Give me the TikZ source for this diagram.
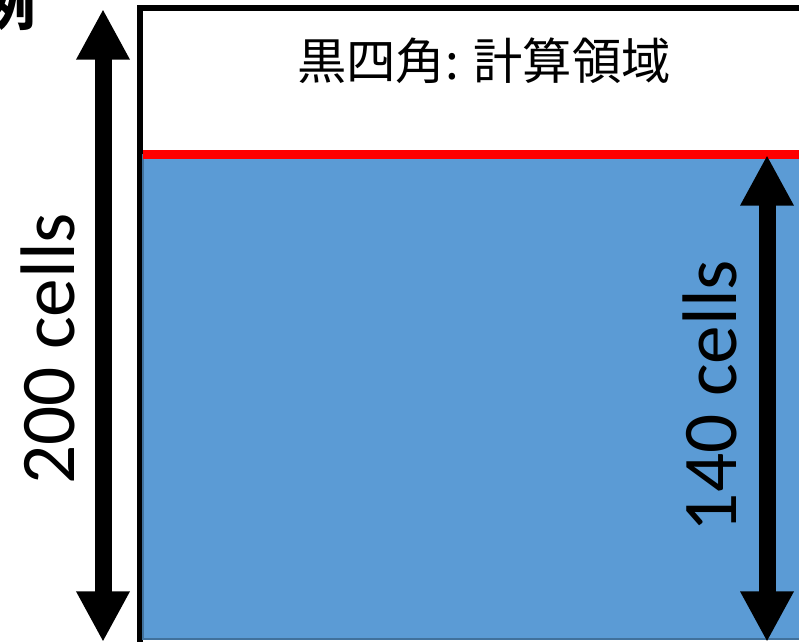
\documentclass[tikz,border=0pt]{standalone}
\usepackage{fontspec}
\setmainfont{Carlito}
\newfontfamily\jpfont{Noto Sans CJK JP}
\usetikzlibrary{arrows.meta}
\definecolor{cellblue}{HTML}{5B9BD5}
\definecolor{celledge}{HTML}{41719C}
\tikzset{
  bigarrow/.style={line width=12.75pt,{Triangle[length=38pt,width=37.5pt]}-{Triangle[length=38pt,width=37.5pt]}},
  celllabel/.style={rotate=90,inner sep=0pt,font=\fontsize{58}{60}\selectfont}
}
\begin{document}
\begin{tikzpicture}[x=0.75pt,y=-0.75pt]
    \useasboundingbox (0,0) rectangle (799,642);

    % Cut-off title at the top left
    \node[anchor=base east,inner sep=0pt,font=\jpfont\bfseries\fontsize{40}{42}\selectfont] (title) at (36,26) {例};

    % Computational domain (black square)
    \draw[line width=4.5pt] (140,8) rectangle (840,690);
    \node[font=\jpfont\fontsize{37}{40}\selectfont] (domain) at (484,61) {黒四角: 計算領域};

    % Filled part: 140 cells
    \filldraw[fill=cellblue,draw=celledge,line width=1.5pt] (143,155) rectangle (820,639);
    \draw[red,line width=6.5pt] (143,154.5) -- (810,154.5);

    % Height of the domain
    \coordinate (top200) at (103,9);
    \coordinate (bot200) at (103,642);
    \draw[bigarrow] (top200) -- (bot200);
    \node[celllabel] (lab200) at (48,349) {200 cells};

    % Height of the filled part
    \coordinate (top140) at (767,155);
    \coordinate (bot140) at (767,642);
    \draw[bigarrow] (top140) -- (bot140);
    \node[celllabel] (lab140) at (710,396) {140 cells};
\end{tikzpicture}
\end{document}
